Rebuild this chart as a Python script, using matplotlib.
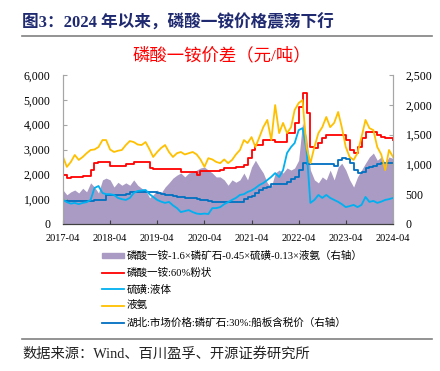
import matplotlib
matplotlib.use("Agg")
import matplotlib.pyplot as plt
import matplotlib.dates as mdates
from matplotlib.lines import Line2D
from matplotlib.patches import Patch
import pandas as pd

plt.rcParams['font.family'] = ['Liberation Serif', 'Noto Sans CJK SC', 'DejaVu Sans']

# monthly, 2017-04 .. 2024-04
dates = pd.date_range("2017-04-01", periods=85, freq="MS")

# liquid ammonia (left axis)
ammonia = [2700, 2300, 2500, 2780, 2580, 2700, 2850, 2980, 3000,
           3100, 3380, 3380, 3000, 2900, 2950, 2980, 3180, 3340, 3300, 3200, 3180,
           3300, 3000, 2700, 2900, 3060, 3180, 2900, 2700, 2850, 2900, 2800, 2850,
           2900, 2800, 2600, 2300, 2650, 2600, 2500, 2450, 2600, 2450, 2580, 2800,
           2980, 3380, 3260, 3500, 3100, 3500, 3900, 4190, 3380, 4790, 3660, 4070,
           3660, 3900, 4590, 4870, 4990, 3100, 2450, 3100, 3660, 3900, 4310, 3900,
           4070, 4510, 3900, 3100, 2700, 2580, 2860, 3500, 4190, 3860, 3780, 3100,
           2800, 2170, 2980, 2700]

# MAP 60% powder (left axis)
map_price = [1970, 1850, 1900, 1900, 1900, 1920, 1950, 2170, 2450,
             2500, 2500, 2500, 2340, 2340, 2340, 2340, 2400, 2400, 2500, 2500, 2500,
             2500, 2250, 2200, 2200, 2200, 2200, 2200, 2200, 2200, 2100, 2100, 2100,
             2100, 1990, 2130, 2130, 2130, 2130, 2130, 2170, 2250, 2250, 2250, 2300,
             2300, 2370, 2650, 2980, 3180, 3180, 3380, 3380, 3380, 3300, 3300, 3300,
             3660, 3660, 4070, 4710, 5270, 4470, 3100, 3060, 3260, 3460, 3580, 3580,
             3580, 3580, 3580, 3380, 2980, 2860, 3100, 3460, 3700, 3700, 3700, 3580,
             3500, 3460, 3460, 3400]

# liquid sulfur (left axis)
sulfur = [970, 880, 820, 850, 800, 850, 880, 970, 1450,
          1530, 1250, 1200, 1200, 1170, 1050, 1000, 970, 1050, 1250, 1330, 1350,
          1370, 1200, 1090, 970, 900, 850, 890, 750, 640, 480, 520, 560,
          480, 420, 400, 420, 400, 640, 640, 680, 800, 880, 970, 1050,
          1170, 1200, 1290, 1350, 1450, 1570, 1650, 1770, 1900, 2050, 1890, 2170,
          2860, 3100, 3260, 3780, 3860, 3000, 850, 970, 1170, 1050, 1170, 1050,
          970, 890, 800, 680, 720, 770, 680, 770, 1090, 890, 930, 850,
          900, 970, 1000, 1050]

# Hubei phosphate rock 30% (right axis)
rock = [400, 390, 385, 385, 385, 385, 385, 390, 400,
        400, 400, 490, 490, 490, 490, 490, 510, 535, 535, 535, 535,
        535, 535, 535, 520, 500, 490, 490, 470, 455, 455, 440, 435,
        435, 420, 400, 400, 390, 370, 370, 370, 370, 370, 370, 370,
        370, 420, 455, 470, 520, 570, 600, 620, 670, 670, 670, 670,
        700, 750, 790, 905, 1020, 1010, 1000, 1000, 1000, 1000, 1000, 1000,
        970, 1070, 1100, 1090, 1020, 905, 855, 870, 940, 955, 980, 1005,
        1020, 1020, 1020, 1020]

# MAP spread (right axis)
spread = [570, 490, 540, 570, 520, 600, 540, 690, 620,
          520, 740, 770, 740, 620, 700, 650, 690, 650, 740, 650, 600,
          570, 440, 490, 570, 520, 620, 690, 770, 820, 855, 790, 855,
          870, 905, 940, 955, 905, 855, 790, 790, 740, 650, 740, 700,
          740, 855, 740, 955, 1070, 955, 855, 690, 620, 855, 905, 855,
          940, 905, 940, 1070, 1700, 1460, 905, 740, 690, 790, 740, 905,
          740, 955, 1020, 905, 740, 620, 790, 905, 1020, 1125, 1190, 1070,
          1125, 1020, 1125, 1100]

labels = ["磷酸一铵-1.6×磷矿石-0.45×硫磺-0.13×液氨（右轴）",
          "磷酸一铵:60%粉状",
          "硫磺:液体",
          "液氨",
          "湖北:市场价格:磷矿石:30%:船板含税价（右轴）"]

C_PURPLE = "#a99bc3"
C_RED = "#ff0000"
C_CYAN = "#00b0f0"
C_YELLOW = "#ffc000"
C_BLUE = "#0070c0"

fig = plt.figure(figsize=(4.4, 3.71), dpi=100)
ax = fig.add_axes([63 / 440, 1 - 224 / 371, 330 / 440, 149 / 371])
ax2 = ax.twinx()

ax2.fill_between(dates, spread, 0, color=C_PURPLE, lw=0)
ax2.plot(dates, rock, color=C_BLUE, lw=1.3, drawstyle="steps-post")
ax.set_zorder(ax2.get_zorder() + 1)
ax.patch.set_visible(False)

ax.plot(dates, map_price, color=C_RED, lw=1.3, drawstyle="steps-post")
ax.plot(dates, sulfur, color=C_CYAN, lw=1.3)
ax.plot(dates, ammonia, color=C_YELLOW, lw=1.3)

ax.set_ylim(0, 6000)
ax2.set_ylim(0, 2500)
ax.set_yticks(range(0, 6001, 1000))
ax2.set_yticks(range(0, 2501, 500))
ax.yaxis.set_major_formatter(matplotlib.ticker.StrMethodFormatter("{x:,.0f}"))
ax2.yaxis.set_major_formatter(matplotlib.ticker.StrMethodFormatter("{x:,.0f}"))
ax.set_xlim(pd.Timestamp("2017-04-01"), pd.Timestamp("2024-04-01"))
ax.set_xticks(pd.date_range("2017-04-01", "2024-04-01", freq="12MS"))
ax.xaxis.set_major_formatter(mdates.DateFormatter("%Y-%m"))

for a in (ax, ax2):
    a.spines["top"].set_visible(False)
    a.spines["left"].set_color("#a6a6a6")
    a.spines["right"].set_color("#a6a6a6")
    a.spines["bottom"].set_color("#404040")
    a.tick_params(direction="in", length=3, color="#a6a6a6", labelsize=8.5, pad=9)
ax.tick_params(axis="x", color="#404040", labelsize=7.5, pad=7)

handles = [Patch(color=C_PURPLE),
           Line2D([], [], color=C_RED, lw=1.3),
           Line2D([], [], color=C_CYAN, lw=1.3),
           Line2D([], [], color=C_YELLOW, lw=1.3),
           Line2D([], [], color=C_BLUE, lw=1.3)]
fig.legend(handles, labels, loc="upper left", bbox_to_anchor=(102 / 440, 1 - 251 / 371),
           frameon=False, fontsize=7.6, handlelength=2.1, handleheight=0.45,
           handletextpad=0.2, labelspacing=0.62, borderaxespad=0, borderpad=0)

# title and frame lines
fig.text(22 / 440, 1 - 23 / 371, "图3：2024 年以来，磷酸一铵价格震荡下行", fontsize=12,
         fontweight="bold", color="#1f2a70", va="center", ha="left")
fig.add_artist(Line2D([22 / 440, 432 / 440], [1 - 36 / 371] * 2, color="#808080", lw=1.2))
fig.text(222 / 440, 1 - 56 / 371, "磷酸一铵价差（元/吨）", fontsize=12.5, color=C_RED,
         va="center", ha="center")
fig.add_artist(Line2D([22 / 440, 432 / 440], [1 - 339 / 371] * 2, color="#808080", lw=1.2))
fig.text(22 / 440, 1 - 354 / 371, "数据来源：Wind、百川盈孚、开源证券研究所", fontsize=10.3,
         color="#222222", va="center", ha="left")

fig.savefig("out.png", dpi=100)
